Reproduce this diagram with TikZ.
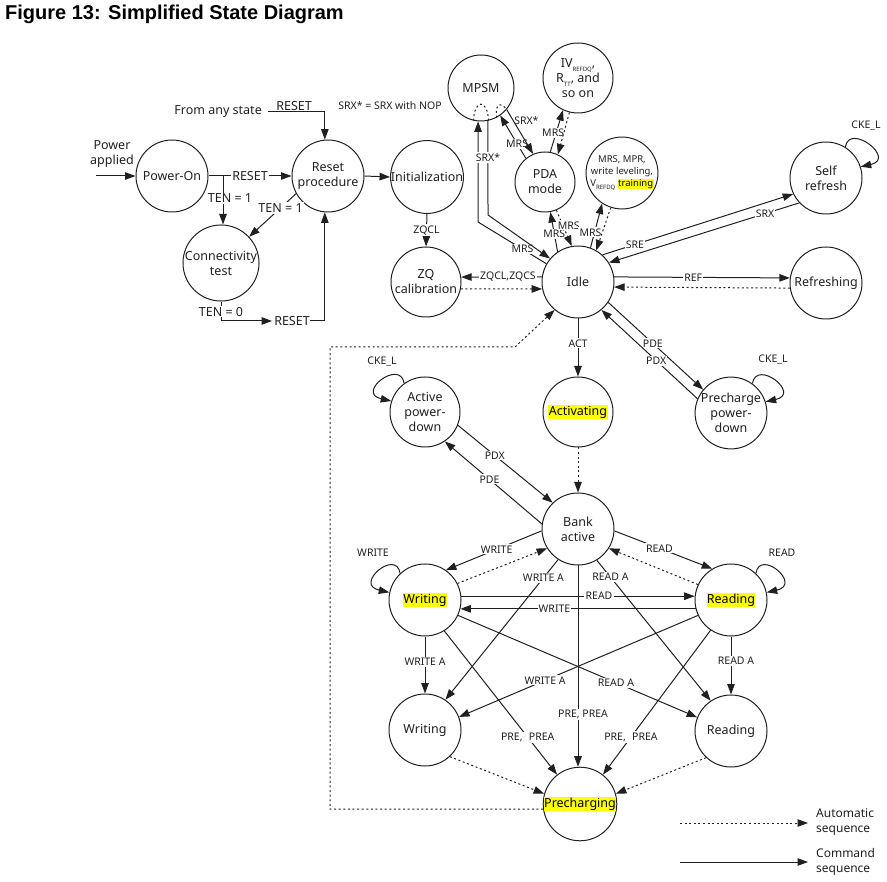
\documentclass[tikz,border=0pt]{standalone}
\usepackage{fontspec}
\setmainfont{Noto Sans}
\newfontfamily\titlefont{Liberation Sans}
\usetikzlibrary{arrows.meta,calc}
\definecolor{ink}{HTML}{231F20}
\definecolor{hl}{HTML}{FFFF00}
\newcommand{\hlt}[1]{{\setlength{\fboxsep}{0.4pt}\colorbox{hl}{\color{black}#1}}}
\newcommand{\sbs}[1]{\raisebox{-0.3em}{\fontsize{6}{6}\selectfont #1}}
\begin{document}
\begin{tikzpicture}[x=1pt,y=1pt,
  stnode/.style={circle,draw=ink,line width=1pt,inner sep=0pt,minimum size=72pt,align=center,font=\fontsize{12.5}{15}\selectfont,text=ink},
  cmd/.style={draw=ink,line width=1pt,-{Triangle[length=10.5pt,width=7.5pt]}},
  autoseq/.style={cmd,dash pattern=on 2pt off 2.6pt},
  lbl/.style={fill=white,inner sep=1.2pt,font=\fontsize{10.5}{12}\selectfont,text=ink},
  biglbl/.style={lbl,font=\fontsize{12.5}{14}\selectfont},
  txt/.style={inner sep=0pt,text=ink,align=center}]
\path[use as bounding box] (0,0) rectangle (887,-882);

\node[anchor=west,font=\titlefont\bfseries\fontsize{20}{22}\selectfont,text=black,inner sep=0pt] (title) at (5,-14) {Figure 13: Simplified State Diagram};

% states
\node[stnode] (pon) at (172,-176) {Power-On};
\node[stnode] (rst) at (328,-176) {Reset\\procedure};
\node[stnode,minimum size=70pt] (init) at (427,-177) {Initialization};
\node[stnode,minimum size=70pt] (conn) at (221,-263) {Connectivity\\test};
\node[stnode,minimum size=70pt] (zq) at (426,-282) {ZQ\\calibration};
\node[stnode] (idle) at (578,-282) {Idle};
\node[stnode,minimum size=66pt] (mpsm) at (481,-88) {MPSM};
\node[stnode,minimum size=70pt] (iv) at (578,-78) {IV\sbs{REFDQ},\\R\sbs{TT}, and\\so on};
\node[stnode,minimum size=60pt] (pda) at (545,-182) {PDA\\mode};
\node[stnode,minimum size=70pt,font=\fontsize{9.5}{12}\selectfont] (mpr) at (622,-173) {MRS, MPR,\\write leveling,\\V\sbs{REFDQ} \hlt{training}};
\node[stnode] (sr) at (826,-178) {Self\\refresh};
\node[stnode] (refr) at (826,-283) {Refreshing};
\node[stnode,minimum size=70pt] (ppd) at (731,-413) {Precharge\\power-\\down};
\node[stnode,minimum size=70pt] (act) at (578,-412) {\hlt{Activating}};
\node[stnode,minimum size=70pt] (apd) at (425,-412) {Active\\power-\\down};
\node[stnode] (bank) at (578,-529) {Bank\\active};
\node[stnode] (wr) at (425,-600) {\hlt{Writing}};
\node[stnode] (rd) at (731,-600) {\hlt{Reading}};
\node[stnode] (wr2) at (425,-730) {Writing};
\node[stnode] (rd2) at (731,-731) {Reading};
\node[stnode] (pre) at (580,-804) {\hlt{Precharging}};

% top-left texts
\node[txt,font=\fontsize{12.5}{15}\selectfont] (pwrtxt) at (112,-154) {Power\\applied};
\coordinate (pwrs) at (96,-176);
\node[txt,font=\fontsize{12.5}{15}\selectfont,anchor=east] (fas) at (262,-112) {From any state};
\coordinate (fa1) at (268,-112);
\node[txt,font=\fontsize{10.5}{12}\selectfont] (srxnote) at (390,-106) {SRX* = SRX with NOP};
\node[txt,font=\fontsize{12.5}{14}\selectfont] (rlab) at (292,-321) {RESET};
\coordinate (ten1) at (223,-176);

% top-left connectors
\draw[cmd] (pwrs) -- (pon.west);
\draw[cmd] (pon.east) -- node[biglbl]{RESET} (rst.west);
\draw[cmd] (ten1) -- node[biglbl,pos=0.46,xshift=7pt]{TEN = 1} (ten1 |- conn.north);
\draw[cmd] (rst.209) -- node[biglbl,pos=0.33]{TEN = 1} (conn.43);
\draw[cmd] (fa1) -| node[pos=0.23,above,inner sep=1pt,font=\fontsize{12.5}{14}\selectfont,text=ink]{RESET} (rst.95);
\draw[cmd] (rst.east) -- (init.west);
\draw[cmd] (init.south) -- node[lbl]{ZQCL} (zq.north);
\draw[cmd] (conn.south) |- node[biglbl,pos=0.26]{TEN = 0} ([xshift=-2pt]rlab.west);
\draw[cmd] (rlab.east) -| (rst.265);

% idle neighbourhood
\draw[cmd] (idle.172) -- node[lbl,pos=0.42]{ZQCL,ZQCS} (zq.8);
\draw[autoseq] (zq.-11) -- (idle.191);
\draw[cmd] (idle.150) -- node[lbl,pos=0.35]{MRS} (478,-222) -- (mpsm.265);
\draw[cmd] (mpsm.282) -- node[lbl,pos=0.39]{SRX*} (488,-215) -- (idle.140);
\draw[cmd] (pda.129) -- node[lbl,pos=0.34]{MRS} (mpsm.-55);
\draw[cmd] (mpsm.-40) -- node[pos=0.25,right,inner sep=0.5pt,font=\fontsize{10.5}{12}\selectfont,text=ink]{SRX*} (pda.113);
\draw[autoseq,-] (mpsm.257) .. controls +(1,22) and +(-1,22) .. (mpsm.283);
\draw[autoseq,-] (mpsm.-62) .. controls +(-2,14) and +(-6,8) .. (mpsm.-40);
\draw[cmd] (idle.124) -- node[lbl,pos=0.45]{MRS} (pda.-80);
\draw[autoseq] (pda.-68) -- node[lbl,pos=0.42,xshift=6pt]{MRS} (idle.100);
\draw[cmd] (pda.80) -- node[lbl,pos=0.46,xshift=-3pt]{MRS} (iv.245);
\draw[autoseq] (iv.256) -- (pda.65);
\draw[cmd] (idle.70) -- node[lbl,pos=0.35,xshift=-4pt]{MRS} (mpr.237);
\draw[autoseq] (mpr.252) -- (idle.60);
\draw[cmd] (idle.48) -- node[lbl,pos=0.17]{SRE} (sr.206);
\draw[cmd] (sr.223) -- node[lbl,pos=0.18]{SRX} (idle.32);
\draw[cmd] (sr.58) .. controls +(4,25) and +(36,8) .. (sr.18);
\node[txt,font=\fontsize{10.5}{12}\selectfont] (ckesr) at (866,-126) {CKE\_L};
\draw[cmd] (idle.8) -- node[lbl,pos=0.45]{REF} (refr.172);
\draw[autoseq] (refr.188) -- (idle.-8);
\draw[cmd] (idle.-34) -- node[lbl,pos=0.47]{PDE} (ppd.140);
\draw[cmd] (ppd.157) -- node[lbl,pos=0.43]{PDX} (idle.-50);
\draw[cmd] (ppd.54) .. controls +(4,25) and +(36,8) .. (ppd.18);
\node[txt,font=\fontsize{10.5}{12}\selectfont] (ckeppd) at (773,-360) {CKE\_L};
\draw[cmd] (idle.south) -- node[lbl,pos=0.43]{ACT} (act.north);
\draw[autoseq] (act.south) -- (bank.north);

% active power-down
\draw[cmd] (apd.126) .. controls +(-4,25) and +(-36,8) .. (apd.162);
\node[txt,font=\fontsize{10.5}{12}\selectfont] (ckeapd) at (382,-362) {CKE\_L};
\draw[cmd] (apd.-22) -- node[lbl,pos=0.39]{PDX} (bank.134);
\draw[cmd] (bank.172) -- node[lbl,pos=0.54]{PDE} (apd.-56);

% bank active
\draw[cmd] (bank.183) -- node[lbl,pos=0.47]{WRITE} (wr.55);
\draw[autoseq] (wr.27) -- (bank.-148);
\draw[cmd] (bank.-3) -- node[lbl,pos=0.46]{READ} (rd.121);
\draw[autoseq] (rd.155) -- (bank.-32);
\draw[cmd] (wr.6) -- node[lbl,pos=0.59]{READ} (rd.174);
\draw[cmd] (rd.194) -- node[lbl,pos=0.6]{WRITE} (wr.-14);
\draw[cmd] (wr.133) .. controls +(-4,25) and +(-36,8) .. (wr.168);
\node[txt,font=\fontsize{10.5}{12}\selectfont] (wrloop) at (373,-553) {WRITE};
\draw[cmd] (rd.47) .. controls +(4,25) and +(36,8) .. (rd.12);
\node[txt,font=\fontsize{10.5}{12}\selectfont] (rdloop) at (782,-553) {READ};

\draw[cmd] (bank.237) -- node[lbl,pos=0.13]{WRITE A} (wr2.56);
\draw[cmd] (bank.-59) -- node[lbl,pos=0.12]{READ A} (rd2.124);
\draw[cmd] (bank.south) -- node[lbl,pos=0.74,xshift=5pt]{PRE, PREA} (bank.south |- pre.north);
\draw[cmd] (wr.south) -- node[lbl,pos=0.45]{WRITE A} (wr2.north);
\draw[cmd] (rd.south) -- node[lbl,pos=0.42,xshift=5pt]{READ A} (rd2.north);
\draw[cmd] (wr.-25) -- node[lbl,pos=0.66]{READ A} (rd2.158);
\draw[cmd] (rd.205) -- node[lbl,pos=0.64]{WRITE A} (wr2.21);
\draw[cmd] (wr.-58) -- node[lbl,pos=0.74]{PRE,\hspace{0.6em}PREA} (pre.128);
\draw[cmd] (rd.236) -- node[lbl,pos=0.74]{PRE,\hspace{0.6em}PREA} (pre.52);
\draw[autoseq] (wr2.-47) -- (pre.164);
\draw[autoseq] (rd2.227) -- (pre.16);
\draw[autoseq] (pre.188) -- (330,-809) -- (330,-347) -- (515,-347) -- (idle.230);

% legend
\coordinate (las) at (680,-823);
\coordinate (lae) at (808,-823);
\coordinate (lcs) at (680,-862);
\coordinate (lce) at (808,-862);
\draw[autoseq] (las) -- (lae);
\draw[cmd] (lcs) -- (lce);
\node[txt,anchor=west,align=left,font=\fontsize{12}{15}\selectfont] (la) at (816,-822) {Automatic\\sequence};
\node[txt,anchor=west,align=left,font=\fontsize{12}{15}\selectfont] (lc) at (816,-862) {Command\\sequence};
\end{tikzpicture}
\end{document}
